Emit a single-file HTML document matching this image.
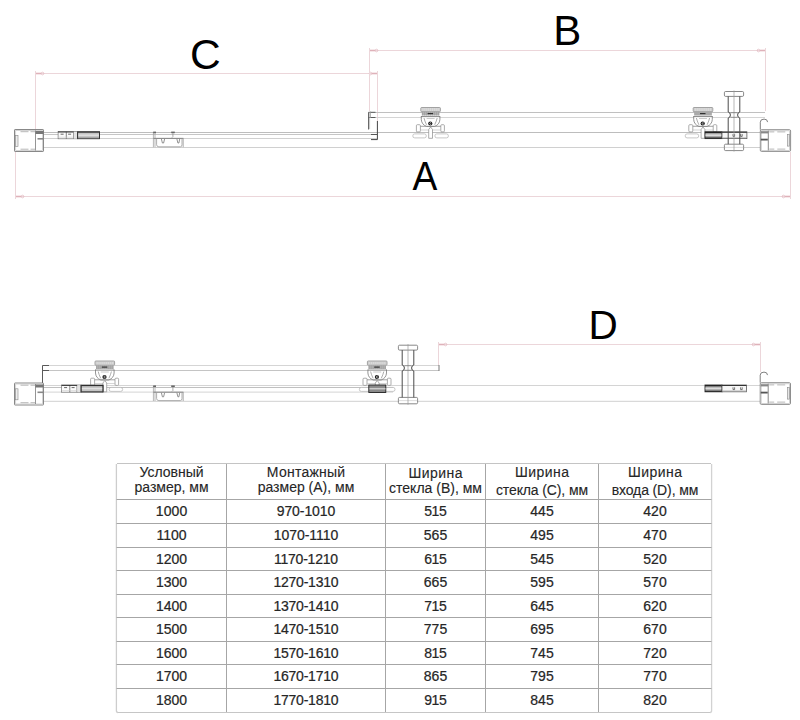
<!DOCTYPE html>
<html><head><meta charset="utf-8"><title>Размеры</title>
<style>
html,body{margin:0;padding:0;background:#fff;}
body{width:800px;height:720px;overflow:hidden;}
svg{display:block;}
</style></head>
<body>
<svg width="800" height="720" viewBox="0 0 800 720" fill="none">
<path d="M35.5,73.5 H377.5" stroke="#ecd6da" stroke-width="1"/>
<path d="M35.5,71.0 V130" stroke="#ecd6da" stroke-width="1"/>
<path d="M377.5,71.0 V121" stroke="#ecd6da" stroke-width="1"/>
<path d="M36.0,73.5 h5" stroke="#dfb2ba" stroke-width="1.6" fill="none" />
<circle cx="42.5" cy="73.5" r="1.3" fill="none" stroke="#dfb2ba" stroke-width="0.7"/>
<path d="M377.0,73.5 h-5" stroke="#dfb2ba" stroke-width="1.6" fill="none" />
<circle cx="370.5" cy="73.5" r="1.3" fill="none" stroke="#dfb2ba" stroke-width="0.7"/>
<path d="M369.5,50.5 H765.5" stroke="#ecd6da" stroke-width="1"/>
<path d="M369.5,48.0 V111" stroke="#ecd6da" stroke-width="1"/>
<path d="M765.5,48.0 V111" stroke="#ecd6da" stroke-width="1"/>
<path d="M370.0,50.5 h5" stroke="#dfb2ba" stroke-width="1.6" fill="none" />
<circle cx="376.5" cy="50.5" r="1.3" fill="none" stroke="#dfb2ba" stroke-width="0.7"/>
<path d="M765.0,50.5 h-5" stroke="#dfb2ba" stroke-width="1.6" fill="none" />
<circle cx="758.5" cy="50.5" r="1.3" fill="none" stroke="#dfb2ba" stroke-width="0.7"/>
<path d="M15.5,196.5 H790.5" stroke="#ecd6da" stroke-width="1"/>
<path d="M15.5,196.5 V152" stroke="#ecd6da" stroke-width="1"/>
<path d="M790.5,196.5 V152" stroke="#ecd6da" stroke-width="1"/>
<path d="M16.0,196.5 h5" stroke="#dfb2ba" stroke-width="1.6" fill="none" />
<circle cx="22.5" cy="196.5" r="1.3" fill="none" stroke="#dfb2ba" stroke-width="0.7"/>
<path d="M790.0,196.5 h-5" stroke="#dfb2ba" stroke-width="1.6" fill="none" />
<circle cx="783.5" cy="196.5" r="1.3" fill="none" stroke="#dfb2ba" stroke-width="0.7"/>
<path d="M15.5,152 V199" stroke="#ecd6da" stroke-width="1"/>
<path d="M790.5,152 V199" stroke="#ecd6da" stroke-width="1"/>
<path d="M43,132.5 H760" stroke="#bdbdbd" stroke-width="1"/>
<path d="M43,134.5 H377" stroke="#c6c6c6" stroke-width="1"/>
<path d="M43,138.5 H377" stroke="#d0d0d0" stroke-width="1"/>
<path d="M43,147.5 H760" stroke="#d0d0d0" stroke-width="1"/>
<path d="M368.5,112.5 H765" stroke="#c0c0c0" stroke-width="1"/>
<path d="M368.5,117.5 H765" stroke="#d5d5d5" stroke-width="1"/>
<path d="M375.5,112.3 H368.6 V129.5" stroke="#5a5a5a" stroke-width="1" fill="none" />
<path d="M368.6,117.5 H375.5" stroke="#5a5a5a" stroke-width="1" fill="none" />
<path d="M369.6,112 V129" stroke="#aaa" stroke-width="0.6" fill="none" />
<path d="M370.5,111.5 V118" stroke="#999" stroke-width="0.7" fill="none" />
<path d="M377.4,121 V139.6 H371" stroke="#444" stroke-width="1" fill="none" />
<path d="M371,134.5 H377.4" stroke="#555" stroke-width="1" fill="none" />
<rect x="14.5" y="129.5" width="29" height="22" rx="0.6" fill="#fff" stroke="#7a7a7a" stroke-width="0.9"/>
<rect x="15.7" y="130.5" width="26.8" height="20" fill="none" stroke="#c4c4c4" stroke-width="0.7"/>
<path d="M35.5,130.5 V150.5" stroke="#7a7a7a" stroke-width="0.8" fill="none" />
<rect x="15.6" y="135.3" width="2.4" height="11" fill="#eee" stroke="#888" stroke-width="0.6"/>
<path d="M20.5,131.7 h8 M30.5,131.7 h5 M20.5,149.2 h8 M30.5,149.2 h5" stroke="#999" stroke-width="0.7" fill="none" />
<rect x="35.5" y="131.0" width="8" height="3" fill="#777"/>
<rect x="37.5" y="138.0" width="6" height="1.6" fill="#888"/>
<rect x="760.3" y="129.7" width="30.3" height="21.7" rx="1.2" fill="#fff" stroke="#7a7a7a" stroke-width="0.85"/>
<rect x="761.3" y="130.79999999999998" width="28.2" height="19.599999999999998" fill="none" stroke="#c4c4c4" stroke-width="0.7"/>
<path d="M768.3,130.7 V150.39999999999998" stroke="#6a6a6a" stroke-width="0.8" fill="none" />
<rect x="787.3999999999999" y="134.5" width="2.2" height="11.6" fill="#e6e6e6" stroke="#888" stroke-width="0.6"/>
<path d="M769.3,131.89999999999998 h5 M777.3,131.89999999999998 h8 M769.3,149.09999999999997 h5 M777.3,149.09999999999997 h8" stroke="#999" stroke-width="0.7" fill="none" />
<rect x="760.8" y="131.2" width="7.5" height="2.2" fill="#888"/>
<rect x="760.8" y="138.7" width="7" height="1.8" fill="#555"/>
<path d="M760.3,129.7 V122.19999999999999 Q760.3,119.1 764.0999999999999,119.1 Q767.5,119.1 767.5999999999999,122.1" stroke="#707070" stroke-width="0.9" fill="none" />
<rect x="58.1" y="131.6" width="19.4" height="7.2" fill="#fbfbfb" stroke="#777" stroke-width="0.7"/>
<path d="M66.3,131.6 V138.79999999999998 M73.5,131.6 V138.79999999999998" stroke="#666" stroke-width="0.8" fill="none" />
<path d="M58.1,132.0 H73.5" stroke="#333" stroke-width="1" fill="none" />
<path d="M60.6,134.2 h3 M68.1,134.2 h3" stroke="#555" stroke-width="0.9" fill="none" />
<path d="M58.6,137.2 H73.1" stroke="#ccc" stroke-width="0.6" fill="none" />
<rect x="73.7" y="132.1" width="3.6" height="6.4" fill="#e4e4e4"/>
<rect x="77.6" y="131.6" width="21.9" height="7.2" fill="#c4c4c4" stroke="#555" stroke-width="0.8"/>
<path d="M77.6,132.15 H99.5" stroke="#2e2e2e" stroke-width="1.1" fill="none" />
<path d="M77.6,138.25 H99.5" stroke="#555" stroke-width="1" fill="none" />
<path d="M78.1,135.2 H99.1" stroke="#e2e2e2" stroke-width="1.4" fill="none" />
<path d="M77.6,131.6 V138.79999999999998 M99.5,131.6 V138.79999999999998" stroke="#333" stroke-width="1" fill="none" />
<path d="M153.4,132.2 V147.2 M155.0,132.2 V147.2" stroke="#9a9a9a" stroke-width="0.7" fill="none" />
<path d="M153.4,138.39999999999998 H183.4" stroke="#8a8a8a" stroke-width="1.1" fill="none" />
<path d="M183.20000000000002,138.39999999999998 V147.2" stroke="#999" stroke-width="0.8" fill="none" />
<path d="M156.6,138.7 V144.7 Q156.6,146.79999999999998 158.9,146.79999999999998 H180.4 Q182.0,146.79999999999998 182.0,144.7 V138.7" stroke="#999" stroke-width="0.8" fill="none" />
<path d="M161.4,139.0 l1,4 h1.2 l1,-4 M176.9,139.0 l1,4 h1 l0.8,-4" stroke="#777" stroke-width="0.8" fill="none" />
<rect x="153.20000000000002" y="131.6" width="2.8" height="1.6" fill="#666"/>
<rect x="171.20000000000002" y="131.6" width="3.6" height="1.6" fill="#666"/>
<path d="M172.9,133.2 V136.7 l-1,1" stroke="#888" stroke-width="0.7" fill="none" />
<rect x="420.8" y="107.5" width="19.6" height="4.2" rx="0.8" fill="#dcdcdc" stroke="#8e8e8e" stroke-width="0.8"/>
<path d="M422.0,108.1 V111.1" stroke="#c0c0c0" stroke-width="0.5" fill="none" />
<path d="M423.9,108.1 V111.1" stroke="#c0c0c0" stroke-width="0.5" fill="none" />
<path d="M425.8,108.1 V111.1" stroke="#c0c0c0" stroke-width="0.5" fill="none" />
<path d="M427.7,108.1 V111.1" stroke="#c0c0c0" stroke-width="0.5" fill="none" />
<path d="M429.6,108.1 V111.1" stroke="#c0c0c0" stroke-width="0.5" fill="none" />
<path d="M431.5,108.1 V111.1" stroke="#c0c0c0" stroke-width="0.5" fill="none" />
<path d="M433.4,108.1 V111.1" stroke="#c0c0c0" stroke-width="0.5" fill="none" />
<path d="M435.3,108.1 V111.1" stroke="#c0c0c0" stroke-width="0.5" fill="none" />
<path d="M437.2,108.1 V111.1" stroke="#c0c0c0" stroke-width="0.5" fill="none" />
<path d="M439.1,108.1 V111.1" stroke="#c0c0c0" stroke-width="0.5" fill="none" />
<rect x="421.8" y="111.9" width="17.6" height="3.6" fill="#b4b4b4"/>
<path d="M422.6,111.9 V115.5" stroke="#8e8e8e" stroke-width="0.5" fill="none" />
<path d="M424.6,111.9 V115.5" stroke="#8e8e8e" stroke-width="0.5" fill="none" />
<path d="M426.6,111.9 V115.5" stroke="#8e8e8e" stroke-width="0.5" fill="none" />
<path d="M428.6,111.9 V115.5" stroke="#8e8e8e" stroke-width="0.5" fill="none" />
<path d="M430.6,111.9 V115.5" stroke="#8e8e8e" stroke-width="0.5" fill="none" />
<path d="M432.6,111.9 V115.5" stroke="#8e8e8e" stroke-width="0.5" fill="none" />
<path d="M434.6,111.9 V115.5" stroke="#8e8e8e" stroke-width="0.5" fill="none" />
<path d="M436.6,111.9 V115.5" stroke="#8e8e8e" stroke-width="0.5" fill="none" />
<path d="M438.6,111.9 V115.5" stroke="#8e8e8e" stroke-width="0.5" fill="none" />
<path d="M427.6,113.6 H433.1" stroke="#2a2a2a" stroke-width="1.1" fill="none" />
<path d="M421.3,116.0 V119.5 Q421.6,124.5 426.6,126.5 H434.6 Q439.6,124.5 439.9,119.5 V116.0" stroke="#7a7a7a" stroke-width="0.8" fill="#fff" />
<path d="M421.3,116.6 H439.9" stroke="#666" stroke-width="0.8" fill="none" />
<path d="M424.0,118.0 l0.9,3 l1.6,3.8 M437.2,118.0 l-0.9,3 l-1.6,3.8" stroke="#8a8a8a" stroke-width="0.7" fill="none" />
<path d="M426.6,118.5 H434.6" stroke="#aaa" stroke-width="0.6" fill="none" />
<circle cx="430.3" cy="123.5" r="2.1" fill="#1a1a1a"/>
<path d="M431.2,122.8 a0.9,0.9 0 1,0 0,1.4" stroke="#fff" stroke-width="0.6" fill="none" />
<rect x="416.4" y="124.7" width="4" height="7.2" rx="1" fill="#fff" stroke="#8a8a8a" stroke-width="0.7"/>
<rect x="440.8" y="124.7" width="3.6" height="7.2" rx="1" fill="#fff" stroke="#8a8a8a" stroke-width="0.7"/>
<path d="M420.4,126.3 H440.8" stroke="#8a8a8a" stroke-width="0.8" fill="none" />
<path d="M420.4,130.0 H440.8" stroke="#bbb" stroke-width="0.6" fill="none" />
<rect x="412.8" y="133.9" width="13.5" height="4" rx="1.9" fill="#fff" stroke="#b0b0b0" stroke-width="0.7"/>
<rect x="434.9" y="133.9" width="13.5" height="4" rx="1.9" fill="#fff" stroke="#b0b0b0" stroke-width="0.7"/>
<path d="M428.7,138.3 V129.5 L430.6,127.0 L432.5,129.5 V138.3 Z" stroke="#8a8a8a" stroke-width="0.7" fill="#fff" />
<rect x="693.2" y="107.5" width="19.6" height="4.2" rx="0.8" fill="#dcdcdc" stroke="#8e8e8e" stroke-width="0.8"/>
<path d="M694.4,108.1 V111.1" stroke="#c0c0c0" stroke-width="0.5" fill="none" />
<path d="M696.3,108.1 V111.1" stroke="#c0c0c0" stroke-width="0.5" fill="none" />
<path d="M698.2,108.1 V111.1" stroke="#c0c0c0" stroke-width="0.5" fill="none" />
<path d="M700.1,108.1 V111.1" stroke="#c0c0c0" stroke-width="0.5" fill="none" />
<path d="M702.0,108.1 V111.1" stroke="#c0c0c0" stroke-width="0.5" fill="none" />
<path d="M703.9,108.1 V111.1" stroke="#c0c0c0" stroke-width="0.5" fill="none" />
<path d="M705.8,108.1 V111.1" stroke="#c0c0c0" stroke-width="0.5" fill="none" />
<path d="M707.7,108.1 V111.1" stroke="#c0c0c0" stroke-width="0.5" fill="none" />
<path d="M709.6,108.1 V111.1" stroke="#c0c0c0" stroke-width="0.5" fill="none" />
<path d="M711.5,108.1 V111.1" stroke="#c0c0c0" stroke-width="0.5" fill="none" />
<rect x="694.2" y="111.9" width="17.6" height="3.6" fill="#b4b4b4"/>
<path d="M695.0,111.9 V115.5" stroke="#8e8e8e" stroke-width="0.5" fill="none" />
<path d="M697.0,111.9 V115.5" stroke="#8e8e8e" stroke-width="0.5" fill="none" />
<path d="M699.0,111.9 V115.5" stroke="#8e8e8e" stroke-width="0.5" fill="none" />
<path d="M701.0,111.9 V115.5" stroke="#8e8e8e" stroke-width="0.5" fill="none" />
<path d="M703.0,111.9 V115.5" stroke="#8e8e8e" stroke-width="0.5" fill="none" />
<path d="M705.0,111.9 V115.5" stroke="#8e8e8e" stroke-width="0.5" fill="none" />
<path d="M707.0,111.9 V115.5" stroke="#8e8e8e" stroke-width="0.5" fill="none" />
<path d="M709.0,111.9 V115.5" stroke="#8e8e8e" stroke-width="0.5" fill="none" />
<path d="M711.0,111.9 V115.5" stroke="#8e8e8e" stroke-width="0.5" fill="none" />
<path d="M700.0,113.6 H705.5" stroke="#2a2a2a" stroke-width="1.1" fill="none" />
<path d="M693.7,116.0 V119.5 Q694.0,124.5 699.0,126.5 H707.0 Q712.0,124.5 712.3,119.5 V116.0" stroke="#7a7a7a" stroke-width="0.8" fill="#fff" />
<path d="M693.7,116.6 H712.3" stroke="#666" stroke-width="0.8" fill="none" />
<path d="M696.4,118.0 l0.9,3 l1.6,3.8 M709.6,118.0 l-0.9,3 l-1.6,3.8" stroke="#8a8a8a" stroke-width="0.7" fill="none" />
<path d="M699.0,118.5 H707.0" stroke="#aaa" stroke-width="0.6" fill="none" />
<circle cx="702.7" cy="123.5" r="2.1" fill="#1a1a1a"/>
<path d="M703.6,122.8 a0.9,0.9 0 1,0 0,1.4" stroke="#fff" stroke-width="0.6" fill="none" />
<rect x="688.8" y="124.7" width="4" height="7.2" rx="1" fill="#fff" stroke="#8a8a8a" stroke-width="0.7"/>
<rect x="713.2" y="124.7" width="3.6" height="7.2" rx="1" fill="#fff" stroke="#8a8a8a" stroke-width="0.7"/>
<path d="M692.8,126.3 H713.2" stroke="#8a8a8a" stroke-width="0.8" fill="none" />
<path d="M692.8,130.0 H713.2" stroke="#bbb" stroke-width="0.6" fill="none" />
<rect x="685.2" y="133.9" width="13.5" height="4" rx="1.9" fill="#fff" stroke="#b0b0b0" stroke-width="0.7"/>
<rect x="707.3" y="133.9" width="13.5" height="4" rx="1.9" fill="#fff" stroke="#b0b0b0" stroke-width="0.7"/>
<path d="M701.1,138.3 V129.5 L703.0,127.0 L704.9,129.5 V138.3 Z" stroke="#8a8a8a" stroke-width="0.7" fill="#fff" />
<rect x="705" y="131.8" width="17" height="6.8" fill="#a0a0a0" stroke="#2a2a2a" stroke-width="0.9"/>
<path d="M705,132.4 H722 M705,138.00000000000003 H722" stroke="#222" stroke-width="1.1" fill="none" />
<path d="M705.5,135.20000000000002 H721.5" stroke="#dcdcdc" stroke-width="1.8" fill="none" />
<rect x="722" y="131.8" width="24.9" height="6.8" fill="#f6f6f6" stroke="#5a5a5a" stroke-width="0.8"/>
<path d="M722,132.3 H746.9" stroke="#333" stroke-width="1" fill="none" />
<path d="M733,134.10000000000002 v2.3 h1.6 v-2.3 M740.6,134.10000000000002 v2.3 h1.6 v-2.3" stroke="#555" stroke-width="0.8" fill="none" />
<path d="M722,137.60000000000002 H746.9" stroke="#aaa" stroke-width="0.6" fill="none" />
<rect x="724.4" y="91.5" width="19.2" height="4.9" rx="1.2" fill="#fff" stroke="#6a6a6a" stroke-width="0.8"/>
<rect x="724.4" y="144.2" width="19.2" height="6.4" rx="1.2" fill="#fff" stroke="#6a6a6a" stroke-width="0.8"/>
<path d="M724.4,147.4 H743.6" stroke="#bbb" stroke-width="0.5" fill="none" />
<path d="M728.2,96.4 V112.0 Q730.4,112.5 730.4,115.0 Q730.4,117.5 728.2,118.0 V144.2" stroke="#4a4a4a" stroke-width="1" fill="none" />
<path d="M739.8,96.4 V112.0 Q737.6,112.5 737.6,115.0 Q737.6,117.5 739.8,118.0 V144.2" stroke="#4a4a4a" stroke-width="1" fill="none" />
<path d="M734.0,90.5 V151.6" stroke="#9a9a9a" stroke-width="0.7" fill="none" />
<path d="M730.4,112.7 H737.6 M730.4,117.3 H737.6" stroke="#777" stroke-width="0.7" fill="none" />
<path d="M438.5,344.5 H760.5" stroke="#ecd6da" stroke-width="1"/>
<path d="M438.5,342.0 V365" stroke="#ecd6da" stroke-width="1"/>
<path d="M760.5,342.0 V372" stroke="#ecd6da" stroke-width="1"/>
<path d="M439.0,344.5 h5" stroke="#dfb2ba" stroke-width="1.6" fill="none" />
<circle cx="445.5" cy="344.5" r="1.3" fill="none" stroke="#dfb2ba" stroke-width="0.7"/>
<path d="M760.0,344.5 h-5" stroke="#dfb2ba" stroke-width="1.6" fill="none" />
<circle cx="753.5" cy="344.5" r="1.3" fill="none" stroke="#dfb2ba" stroke-width="0.7"/>
<path d="M43,385.5 H760" stroke="#d4d4d4" stroke-width="1"/>
<path d="M43,387.5 H393" stroke="#c0c0c0" stroke-width="1"/>
<path d="M43,392.1 H393" stroke="#d4d4d4" stroke-width="1"/>
<path d="M43,401.3 H760" stroke="#d0d0d0" stroke-width="1"/>
<path d="M42.5,365.5 H439" stroke="#d5d5d5" stroke-width="1"/>
<path d="M42.5,370.5 H439" stroke="#c4c4c4" stroke-width="1"/>
<path d="M49,365.5 H42.5 V386" stroke="#5a5a5a" stroke-width="1" fill="none" />
<path d="M42.5,370.5 H49" stroke="#5a5a5a" stroke-width="1" fill="none" />
<path d="M439,365 V371" stroke="#777" stroke-width="1" fill="none" />
<rect x="14.5" y="383" width="29" height="22" rx="0.6" fill="#fff" stroke="#7a7a7a" stroke-width="0.9"/>
<rect x="15.7" y="384" width="26.8" height="20" fill="none" stroke="#c4c4c4" stroke-width="0.7"/>
<path d="M35.5,384 V404" stroke="#7a7a7a" stroke-width="0.8" fill="none" />
<rect x="15.6" y="388.8" width="2.4" height="11" fill="#eee" stroke="#888" stroke-width="0.6"/>
<path d="M20.5,385.2 h8 M30.5,385.2 h5 M20.5,402.7 h8 M30.5,402.7 h5" stroke="#999" stroke-width="0.7" fill="none" />
<rect x="35.5" y="384.5" width="8" height="3" fill="#777"/>
<rect x="37.5" y="391.5" width="6" height="1.6" fill="#888"/>
<rect x="760.2" y="382.7" width="30.3" height="21.7" rx="1.2" fill="#fff" stroke="#7a7a7a" stroke-width="0.85"/>
<rect x="761.2" y="383.8" width="28.2" height="19.599999999999998" fill="none" stroke="#c4c4c4" stroke-width="0.7"/>
<path d="M768.2,383.7 V403.4" stroke="#6a6a6a" stroke-width="0.8" fill="none" />
<rect x="787.3" y="387.5" width="2.2" height="11.6" fill="#e6e6e6" stroke="#888" stroke-width="0.6"/>
<path d="M769.2,384.9 h5 M777.2,384.9 h8 M769.2,402.09999999999997 h5 M777.2,402.09999999999997 h8" stroke="#999" stroke-width="0.7" fill="none" />
<rect x="760.7" y="384.2" width="7.5" height="2.2" fill="#888"/>
<rect x="760.7" y="391.7" width="7" height="1.8" fill="#555"/>
<path d="M760.2,382.7 V375.2 Q760.2,372.09999999999997 764.0,372.09999999999997 Q767.4000000000001,372.09999999999997 767.5,375.09999999999997" stroke="#707070" stroke-width="0.9" fill="none" />
<rect x="95.0" y="361.0" width="19.6" height="4.2" rx="0.8" fill="#dcdcdc" stroke="#8e8e8e" stroke-width="0.8"/>
<path d="M96.2,361.6 V364.6" stroke="#c0c0c0" stroke-width="0.5" fill="none" />
<path d="M98.1,361.6 V364.6" stroke="#c0c0c0" stroke-width="0.5" fill="none" />
<path d="M100.0,361.6 V364.6" stroke="#c0c0c0" stroke-width="0.5" fill="none" />
<path d="M101.9,361.6 V364.6" stroke="#c0c0c0" stroke-width="0.5" fill="none" />
<path d="M103.8,361.6 V364.6" stroke="#c0c0c0" stroke-width="0.5" fill="none" />
<path d="M105.7,361.6 V364.6" stroke="#c0c0c0" stroke-width="0.5" fill="none" />
<path d="M107.6,361.6 V364.6" stroke="#c0c0c0" stroke-width="0.5" fill="none" />
<path d="M109.5,361.6 V364.6" stroke="#c0c0c0" stroke-width="0.5" fill="none" />
<path d="M111.4,361.6 V364.6" stroke="#c0c0c0" stroke-width="0.5" fill="none" />
<path d="M113.3,361.6 V364.6" stroke="#c0c0c0" stroke-width="0.5" fill="none" />
<rect x="96.0" y="365.4" width="17.6" height="3.6" fill="#b4b4b4"/>
<path d="M96.8,365.4 V369.0" stroke="#8e8e8e" stroke-width="0.5" fill="none" />
<path d="M98.8,365.4 V369.0" stroke="#8e8e8e" stroke-width="0.5" fill="none" />
<path d="M100.8,365.4 V369.0" stroke="#8e8e8e" stroke-width="0.5" fill="none" />
<path d="M102.8,365.4 V369.0" stroke="#8e8e8e" stroke-width="0.5" fill="none" />
<path d="M104.8,365.4 V369.0" stroke="#8e8e8e" stroke-width="0.5" fill="none" />
<path d="M106.8,365.4 V369.0" stroke="#8e8e8e" stroke-width="0.5" fill="none" />
<path d="M108.8,365.4 V369.0" stroke="#8e8e8e" stroke-width="0.5" fill="none" />
<path d="M110.8,365.4 V369.0" stroke="#8e8e8e" stroke-width="0.5" fill="none" />
<path d="M112.8,365.4 V369.0" stroke="#8e8e8e" stroke-width="0.5" fill="none" />
<path d="M101.8,367.1 H107.3" stroke="#2a2a2a" stroke-width="1.1" fill="none" />
<path d="M95.5,369.5 V373.0 Q95.8,378.0 100.8,380.0 H108.8 Q113.8,378.0 114.1,373.0 V369.5" stroke="#7a7a7a" stroke-width="0.8" fill="#fff" />
<path d="M95.5,370.1 H114.1" stroke="#666" stroke-width="0.8" fill="none" />
<path d="M98.2,371.5 l0.9,3 l1.6,3.8 M111.4,371.5 l-0.9,3 l-1.6,3.8" stroke="#8a8a8a" stroke-width="0.7" fill="none" />
<path d="M100.8,372.0 H108.8" stroke="#aaa" stroke-width="0.6" fill="none" />
<circle cx="104.5" cy="377.0" r="2.1" fill="#1a1a1a"/>
<path d="M105.4,376.3 a0.9,0.9 0 1,0 0,1.4" stroke="#fff" stroke-width="0.6" fill="none" />
<rect x="90.6" y="378.2" width="4" height="7.2" rx="1" fill="#fff" stroke="#8a8a8a" stroke-width="0.7"/>
<rect x="115.0" y="378.2" width="3.6" height="7.2" rx="1" fill="#fff" stroke="#8a8a8a" stroke-width="0.7"/>
<path d="M94.6,379.8 H115.0" stroke="#8a8a8a" stroke-width="0.8" fill="none" />
<path d="M94.6,383.5 H115.0" stroke="#bbb" stroke-width="0.6" fill="none" />
<rect x="87.0" y="387.4" width="13.5" height="4" rx="1.9" fill="#fff" stroke="#b0b0b0" stroke-width="0.7"/>
<rect x="109.1" y="387.4" width="13.5" height="4" rx="1.9" fill="#fff" stroke="#b0b0b0" stroke-width="0.7"/>
<path d="M102.9,391.8 V383.0 L104.8,380.5 L106.7,383.0 V391.8 Z" stroke="#8a8a8a" stroke-width="0.7" fill="#fff" />
<rect x="61.6" y="385" width="19.4" height="7.2" fill="#fbfbfb" stroke="#777" stroke-width="0.7"/>
<path d="M69.8,385 V392.2 M77.0,385 V392.2" stroke="#666" stroke-width="0.8" fill="none" />
<path d="M61.6,385.4 H77.0" stroke="#333" stroke-width="1" fill="none" />
<path d="M64.1,387.6 h3 M71.6,387.6 h3" stroke="#555" stroke-width="0.9" fill="none" />
<path d="M62.1,390.6 H76.6" stroke="#ccc" stroke-width="0.6" fill="none" />
<rect x="77.2" y="385.5" width="3.6" height="6.4" fill="#e4e4e4"/>
<rect x="81.1" y="385" width="21.9" height="7.2" fill="#c4c4c4" stroke="#555" stroke-width="0.8"/>
<path d="M81.1,385.55 H103.0" stroke="#2e2e2e" stroke-width="1.1" fill="none" />
<path d="M81.1,391.65 H103.0" stroke="#555" stroke-width="1" fill="none" />
<path d="M81.6,388.6 H102.6" stroke="#e2e2e2" stroke-width="1.4" fill="none" />
<path d="M81.1,385 V392.2 M103.0,385 V392.2" stroke="#333" stroke-width="1" fill="none" />
<path d="M153.4,386 V401 M155.0,386 V401" stroke="#9a9a9a" stroke-width="0.7" fill="none" />
<path d="M153.4,392.2 H183.4" stroke="#8a8a8a" stroke-width="1.1" fill="none" />
<path d="M183.20000000000002,392.2 V401" stroke="#999" stroke-width="0.8" fill="none" />
<path d="M156.6,392.5 V398.5 Q156.6,400.6 158.9,400.6 H180.4 Q182.0,400.6 182.0,398.5 V392.5" stroke="#999" stroke-width="0.8" fill="none" />
<path d="M161.4,392.8 l1,4 h1.2 l1,-4 M176.9,392.8 l1,4 h1 l0.8,-4" stroke="#777" stroke-width="0.8" fill="none" />
<rect x="153.20000000000002" y="385.4" width="2.8" height="1.6" fill="#666"/>
<rect x="171.20000000000002" y="385.4" width="3.6" height="1.6" fill="#666"/>
<path d="M172.9,387 V390.5 l-1,1" stroke="#888" stroke-width="0.7" fill="none" />
<rect x="367.4" y="361.0" width="19.6" height="4.2" rx="0.8" fill="#dcdcdc" stroke="#8e8e8e" stroke-width="0.8"/>
<path d="M368.6,361.6 V364.6" stroke="#c0c0c0" stroke-width="0.5" fill="none" />
<path d="M370.5,361.6 V364.6" stroke="#c0c0c0" stroke-width="0.5" fill="none" />
<path d="M372.4,361.6 V364.6" stroke="#c0c0c0" stroke-width="0.5" fill="none" />
<path d="M374.3,361.6 V364.6" stroke="#c0c0c0" stroke-width="0.5" fill="none" />
<path d="M376.2,361.6 V364.6" stroke="#c0c0c0" stroke-width="0.5" fill="none" />
<path d="M378.1,361.6 V364.6" stroke="#c0c0c0" stroke-width="0.5" fill="none" />
<path d="M380.0,361.6 V364.6" stroke="#c0c0c0" stroke-width="0.5" fill="none" />
<path d="M381.9,361.6 V364.6" stroke="#c0c0c0" stroke-width="0.5" fill="none" />
<path d="M383.8,361.6 V364.6" stroke="#c0c0c0" stroke-width="0.5" fill="none" />
<path d="M385.7,361.6 V364.6" stroke="#c0c0c0" stroke-width="0.5" fill="none" />
<rect x="368.4" y="365.4" width="17.6" height="3.6" fill="#b4b4b4"/>
<path d="M369.2,365.4 V369.0" stroke="#8e8e8e" stroke-width="0.5" fill="none" />
<path d="M371.2,365.4 V369.0" stroke="#8e8e8e" stroke-width="0.5" fill="none" />
<path d="M373.2,365.4 V369.0" stroke="#8e8e8e" stroke-width="0.5" fill="none" />
<path d="M375.2,365.4 V369.0" stroke="#8e8e8e" stroke-width="0.5" fill="none" />
<path d="M377.2,365.4 V369.0" stroke="#8e8e8e" stroke-width="0.5" fill="none" />
<path d="M379.2,365.4 V369.0" stroke="#8e8e8e" stroke-width="0.5" fill="none" />
<path d="M381.2,365.4 V369.0" stroke="#8e8e8e" stroke-width="0.5" fill="none" />
<path d="M383.2,365.4 V369.0" stroke="#8e8e8e" stroke-width="0.5" fill="none" />
<path d="M385.2,365.4 V369.0" stroke="#8e8e8e" stroke-width="0.5" fill="none" />
<path d="M374.2,367.1 H379.7" stroke="#2a2a2a" stroke-width="1.1" fill="none" />
<path d="M367.9,369.5 V373.0 Q368.2,378.0 373.2,380.0 H381.2 Q386.2,378.0 386.5,373.0 V369.5" stroke="#7a7a7a" stroke-width="0.8" fill="#fff" />
<path d="M367.9,370.1 H386.5" stroke="#666" stroke-width="0.8" fill="none" />
<path d="M370.6,371.5 l0.9,3 l1.6,3.8 M383.8,371.5 l-0.9,3 l-1.6,3.8" stroke="#8a8a8a" stroke-width="0.7" fill="none" />
<path d="M373.2,372.0 H381.2" stroke="#aaa" stroke-width="0.6" fill="none" />
<circle cx="376.9" cy="377.0" r="2.1" fill="#1a1a1a"/>
<path d="M377.8,376.3 a0.9,0.9 0 1,0 0,1.4" stroke="#fff" stroke-width="0.6" fill="none" />
<rect x="363.0" y="378.2" width="4" height="7.2" rx="1" fill="#fff" stroke="#8a8a8a" stroke-width="0.7"/>
<rect x="387.4" y="378.2" width="3.6" height="7.2" rx="1" fill="#fff" stroke="#8a8a8a" stroke-width="0.7"/>
<path d="M367.0,379.8 H387.4" stroke="#8a8a8a" stroke-width="0.8" fill="none" />
<path d="M367.0,383.5 H387.4" stroke="#bbb" stroke-width="0.6" fill="none" />
<rect x="359.4" y="387.4" width="13.5" height="4" rx="1.9" fill="#fff" stroke="#b0b0b0" stroke-width="0.7"/>
<rect x="381.5" y="387.4" width="13.5" height="4" rx="1.9" fill="#fff" stroke="#b0b0b0" stroke-width="0.7"/>
<path d="M375.3,391.8 V383.0 L377.2,380.5 L379.1,383.0 V391.8 Z" stroke="#8a8a8a" stroke-width="0.7" fill="#fff" />
<rect x="398.4" y="345.2" width="19.2" height="4.9" rx="1.2" fill="#fff" stroke="#6a6a6a" stroke-width="0.8"/>
<rect x="398.4" y="397.4" width="19.2" height="6.4" rx="1.2" fill="#fff" stroke="#6a6a6a" stroke-width="0.8"/>
<path d="M398.4,400.6 H417.6" stroke="#bbb" stroke-width="0.5" fill="none" />
<path d="M402.2,350.1 V365.0 Q404.4,365.5 404.4,368.0 Q404.4,370.5 402.2,371.0 V397.4" stroke="#4a4a4a" stroke-width="1" fill="none" />
<path d="M413.8,350.1 V365.0 Q411.6,365.5 411.6,368.0 Q411.6,370.5 413.8,371.0 V397.4" stroke="#4a4a4a" stroke-width="1" fill="none" />
<path d="M408.0,344.2 V404.8" stroke="#9a9a9a" stroke-width="0.7" fill="none" />
<path d="M404.4,365.7 H411.6 M404.4,370.3 H411.6" stroke="#777" stroke-width="0.7" fill="none" />
<rect x="368.8" y="385" width="17" height="7.5" fill="#8a8a8a" stroke="#222" stroke-width="0.9"/>
<path d="M369.5,388.7 H385.5" stroke="#ccc" stroke-width="1.5" fill="none" />
<rect x="705" y="385" width="17" height="6.8" fill="#a0a0a0" stroke="#2a2a2a" stroke-width="0.9"/>
<path d="M705,385.6 H722 M705,391.2 H722" stroke="#222" stroke-width="1.1" fill="none" />
<path d="M705.5,388.4 H721.5" stroke="#dcdcdc" stroke-width="1.8" fill="none" />
<rect x="722" y="385" width="24.4" height="6.8" fill="#f6f6f6" stroke="#5a5a5a" stroke-width="0.8"/>
<path d="M722,385.5 H746.4" stroke="#333" stroke-width="1" fill="none" />
<path d="M733,387.3 v2.3 h1.6 v-2.3 M740.6,387.3 v2.3 h1.6 v-2.3" stroke="#555" stroke-width="0.8" fill="none" />
<path d="M722,390.8 H746.4" stroke="#aaa" stroke-width="0.6" fill="none" />
<text x="205.4" y="68.9" text-anchor="middle" font-size="42.5" font-family="Liberation Sans, sans-serif" fill="#000">C</text>
<text x="567.3" y="44.9" text-anchor="middle" font-size="42" font-family="Liberation Sans, sans-serif" fill="#000">B</text>
<text x="425" y="189.9" text-anchor="middle" font-size="40" font-family="Liberation Sans, sans-serif" fill="#000" transform="translate(425,0) scale(0.93,1) translate(-425,0)">A</text>
<text x="603.2" y="339" text-anchor="middle" font-size="40.5" font-family="Liberation Sans, sans-serif" fill="#000">D</text>
<path d="M117,463.5 H711" stroke="#c4c4c4" stroke-width="1"/>
<path d="M117.5,712.5 H710.5" stroke="#c6c6c6" stroke-width="1"/>
<path d="M116.4,464 V710.5 Q116.4,712.5 118,712.5" stroke="#cdcdcd" stroke-width="1.3" fill="none" />
<path d="M711.6,464 V710.5 Q711.6,712.5 710,712.5" stroke="#d2d2d2" stroke-width="1.3" fill="none" />
<path d="M226.5,464 V712" stroke="#a6a6a6" stroke-width="1"/>
<path d="M385.5,464 V712" stroke="#a6a6a6" stroke-width="1"/>
<path d="M485.5,464 V712" stroke="#a6a6a6" stroke-width="1"/>
<path d="M598.5,464 V712" stroke="#a6a6a6" stroke-width="1"/>
<path d="M116.5,499.5 H711.5" stroke="#a6a6a6" stroke-width="1"/>
<path d="M116.5,523.5 H711.5" stroke="#a6a6a6" stroke-width="1"/>
<path d="M116.5,547.5 H711.5" stroke="#a6a6a6" stroke-width="1"/>
<path d="M116.5,570.5 H711.5" stroke="#a6a6a6" stroke-width="1"/>
<path d="M116.5,594.5 H711.5" stroke="#a6a6a6" stroke-width="1"/>
<path d="M116.5,617.5 H711.5" stroke="#a6a6a6" stroke-width="1"/>
<path d="M116.5,641.5 H711.5" stroke="#a6a6a6" stroke-width="1"/>
<path d="M116.5,664.5 H711.5" stroke="#a6a6a6" stroke-width="1"/>
<path d="M116.5,688.5 H711.5" stroke="#a6a6a6" stroke-width="1"/>
<text x="171.5" y="477.3" text-anchor="middle" font-size="14" font-family="Liberation Sans, sans-serif" fill="#262626" stroke="#262626" stroke-width="0.12">Условный</text>
<text x="171.5" y="492.0" text-anchor="middle" font-size="14" font-family="Liberation Sans, sans-serif" fill="#262626" stroke="#262626" stroke-width="0.12">размер, мм</text>
<text x="306.0" y="477.4" text-anchor="middle" font-size="14" textLength="78.3" lengthAdjust="spacing" font-family="Liberation Sans, sans-serif" fill="#262626" stroke="#262626" stroke-width="0.12">Монтажный</text>
<text x="306.0" y="492.4" text-anchor="middle" font-size="14" font-family="Liberation Sans, sans-serif" fill="#262626" stroke="#262626" stroke-width="0.12">размер (А), мм</text>
<text x="435.5" y="478.0" text-anchor="middle" font-size="14" textLength="54.0" lengthAdjust="spacing" font-family="Liberation Sans, sans-serif" fill="#262626" stroke="#262626" stroke-width="0.12">Ширина</text>
<text x="435.5" y="492.6" text-anchor="middle" font-size="14" font-family="Liberation Sans, sans-serif" fill="#262626" stroke="#262626" stroke-width="0.12">стекла (В), мм</text>
<text x="542.0" y="476.9" text-anchor="middle" font-size="14" textLength="54.0" lengthAdjust="spacing" font-family="Liberation Sans, sans-serif" fill="#262626" stroke="#262626" stroke-width="0.12">Ширина</text>
<text x="542.0" y="494.8" text-anchor="middle" font-size="14" textLength="92.0" lengthAdjust="spacing" font-family="Liberation Sans, sans-serif" fill="#262626" stroke="#262626" stroke-width="0.12">стекла (С), мм</text>
<text x="655.0" y="476.9" text-anchor="middle" font-size="14" textLength="54.0" lengthAdjust="spacing" font-family="Liberation Sans, sans-serif" fill="#262626" stroke="#262626" stroke-width="0.12">Ширина</text>
<text x="655.0" y="495.0" text-anchor="middle" font-size="14" textLength="86.5" lengthAdjust="spacing" font-family="Liberation Sans, sans-serif" fill="#262626" stroke="#262626" stroke-width="0.12">входа (D), мм</text>
<text x="171.5" y="516.2" text-anchor="middle" font-size="14" textLength="31.44" lengthAdjust="spacing" font-family="Liberation Sans, sans-serif" fill="#262626" stroke="#262626" stroke-width="0.22">1000</text>
<text x="306.0" y="516.2" text-anchor="middle" font-size="14" textLength="58.55" lengthAdjust="spacing" font-family="Liberation Sans, sans-serif" fill="#262626" stroke="#262626" stroke-width="0.22">970-1010</text>
<text x="435.5" y="516.2" text-anchor="middle" font-size="14" textLength="22.45" lengthAdjust="spacing" font-family="Liberation Sans, sans-serif" fill="#262626" stroke="#262626" stroke-width="0.22">515</text>
<text x="542.0" y="516.2" text-anchor="middle" font-size="14" textLength="23.35" lengthAdjust="spacing" font-family="Liberation Sans, sans-serif" fill="#262626" stroke="#262626" stroke-width="0.22">445</text>
<text x="655.0" y="516.2" text-anchor="middle" font-size="14" textLength="23.75" lengthAdjust="spacing" font-family="Liberation Sans, sans-serif" fill="#262626" stroke="#262626" stroke-width="0.22">420</text>
<text x="171.5" y="540.2" text-anchor="middle" font-size="14" textLength="30.14" lengthAdjust="spacing" font-family="Liberation Sans, sans-serif" fill="#262626" stroke="#262626" stroke-width="0.22">1100</text>
<text x="306.0" y="540.2" text-anchor="middle" font-size="14" textLength="64.53" lengthAdjust="spacing" font-family="Liberation Sans, sans-serif" fill="#262626" stroke="#262626" stroke-width="0.22">1070-1110</text>
<text x="435.5" y="540.2" text-anchor="middle" font-size="14" textLength="23.35" lengthAdjust="spacing" font-family="Liberation Sans, sans-serif" fill="#262626" stroke="#262626" stroke-width="0.22">565</text>
<text x="542.0" y="540.2" text-anchor="middle" font-size="14" textLength="23.35" lengthAdjust="spacing" font-family="Liberation Sans, sans-serif" fill="#262626" stroke="#262626" stroke-width="0.22">495</text>
<text x="655.0" y="540.2" text-anchor="middle" font-size="14" textLength="23.75" lengthAdjust="spacing" font-family="Liberation Sans, sans-serif" fill="#262626" stroke="#262626" stroke-width="0.22">470</text>
<text x="171.5" y="563.7" text-anchor="middle" font-size="14" textLength="31.04" lengthAdjust="spacing" font-family="Liberation Sans, sans-serif" fill="#262626" stroke="#262626" stroke-width="0.22">1200</text>
<text x="306.0" y="563.7" text-anchor="middle" font-size="14" textLength="64.13" lengthAdjust="spacing" font-family="Liberation Sans, sans-serif" fill="#262626" stroke="#262626" stroke-width="0.22">1170-1210</text>
<text x="435.5" y="563.7" text-anchor="middle" font-size="14" textLength="22.45" lengthAdjust="spacing" font-family="Liberation Sans, sans-serif" fill="#262626" stroke="#262626" stroke-width="0.22">615</text>
<text x="542.0" y="563.7" text-anchor="middle" font-size="14" textLength="23.35" lengthAdjust="spacing" font-family="Liberation Sans, sans-serif" fill="#262626" stroke="#262626" stroke-width="0.22">545</text>
<text x="655.0" y="563.7" text-anchor="middle" font-size="14" textLength="23.75" lengthAdjust="spacing" font-family="Liberation Sans, sans-serif" fill="#262626" stroke="#262626" stroke-width="0.22">520</text>
<text x="171.5" y="587.2" text-anchor="middle" font-size="14" textLength="31.04" lengthAdjust="spacing" font-family="Liberation Sans, sans-serif" fill="#262626" stroke="#262626" stroke-width="0.22">1300</text>
<text x="306.0" y="587.2" text-anchor="middle" font-size="14" textLength="65.03" lengthAdjust="spacing" font-family="Liberation Sans, sans-serif" fill="#262626" stroke="#262626" stroke-width="0.22">1270-1310</text>
<text x="435.5" y="587.2" text-anchor="middle" font-size="14" textLength="23.35" lengthAdjust="spacing" font-family="Liberation Sans, sans-serif" fill="#262626" stroke="#262626" stroke-width="0.22">665</text>
<text x="542.0" y="587.2" text-anchor="middle" font-size="14" textLength="23.35" lengthAdjust="spacing" font-family="Liberation Sans, sans-serif" fill="#262626" stroke="#262626" stroke-width="0.22">595</text>
<text x="655.0" y="587.2" text-anchor="middle" font-size="14" textLength="23.75" lengthAdjust="spacing" font-family="Liberation Sans, sans-serif" fill="#262626" stroke="#262626" stroke-width="0.22">570</text>
<text x="171.5" y="610.7" text-anchor="middle" font-size="14" textLength="31.04" lengthAdjust="spacing" font-family="Liberation Sans, sans-serif" fill="#262626" stroke="#262626" stroke-width="0.22">1400</text>
<text x="306.0" y="610.7" text-anchor="middle" font-size="14" textLength="65.03" lengthAdjust="spacing" font-family="Liberation Sans, sans-serif" fill="#262626" stroke="#262626" stroke-width="0.22">1370-1410</text>
<text x="435.5" y="610.7" text-anchor="middle" font-size="14" textLength="22.45" lengthAdjust="spacing" font-family="Liberation Sans, sans-serif" fill="#262626" stroke="#262626" stroke-width="0.22">715</text>
<text x="542.0" y="610.7" text-anchor="middle" font-size="14" textLength="23.35" lengthAdjust="spacing" font-family="Liberation Sans, sans-serif" fill="#262626" stroke="#262626" stroke-width="0.22">645</text>
<text x="655.0" y="610.7" text-anchor="middle" font-size="14" textLength="23.75" lengthAdjust="spacing" font-family="Liberation Sans, sans-serif" fill="#262626" stroke="#262626" stroke-width="0.22">620</text>
<text x="171.5" y="634.2" text-anchor="middle" font-size="14" textLength="31.04" lengthAdjust="spacing" font-family="Liberation Sans, sans-serif" fill="#262626" stroke="#262626" stroke-width="0.22">1500</text>
<text x="306.0" y="634.2" text-anchor="middle" font-size="14" textLength="65.03" lengthAdjust="spacing" font-family="Liberation Sans, sans-serif" fill="#262626" stroke="#262626" stroke-width="0.22">1470-1510</text>
<text x="435.5" y="634.2" text-anchor="middle" font-size="14" textLength="23.35" lengthAdjust="spacing" font-family="Liberation Sans, sans-serif" fill="#262626" stroke="#262626" stroke-width="0.22">775</text>
<text x="542.0" y="634.2" text-anchor="middle" font-size="14" textLength="23.35" lengthAdjust="spacing" font-family="Liberation Sans, sans-serif" fill="#262626" stroke="#262626" stroke-width="0.22">695</text>
<text x="655.0" y="634.2" text-anchor="middle" font-size="14" textLength="23.75" lengthAdjust="spacing" font-family="Liberation Sans, sans-serif" fill="#262626" stroke="#262626" stroke-width="0.22">670</text>
<text x="171.5" y="657.7" text-anchor="middle" font-size="14" textLength="31.04" lengthAdjust="spacing" font-family="Liberation Sans, sans-serif" fill="#262626" stroke="#262626" stroke-width="0.22">1600</text>
<text x="306.0" y="657.7" text-anchor="middle" font-size="14" textLength="65.03" lengthAdjust="spacing" font-family="Liberation Sans, sans-serif" fill="#262626" stroke="#262626" stroke-width="0.22">1570-1610</text>
<text x="435.5" y="657.7" text-anchor="middle" font-size="14" textLength="22.45" lengthAdjust="spacing" font-family="Liberation Sans, sans-serif" fill="#262626" stroke="#262626" stroke-width="0.22">815</text>
<text x="542.0" y="657.7" text-anchor="middle" font-size="14" textLength="23.35" lengthAdjust="spacing" font-family="Liberation Sans, sans-serif" fill="#262626" stroke="#262626" stroke-width="0.22">745</text>
<text x="655.0" y="657.7" text-anchor="middle" font-size="14" textLength="23.75" lengthAdjust="spacing" font-family="Liberation Sans, sans-serif" fill="#262626" stroke="#262626" stroke-width="0.22">720</text>
<text x="171.5" y="681.2" text-anchor="middle" font-size="14" textLength="31.04" lengthAdjust="spacing" font-family="Liberation Sans, sans-serif" fill="#262626" stroke="#262626" stroke-width="0.22">1700</text>
<text x="306.0" y="681.2" text-anchor="middle" font-size="14" textLength="65.03" lengthAdjust="spacing" font-family="Liberation Sans, sans-serif" fill="#262626" stroke="#262626" stroke-width="0.22">1670-1710</text>
<text x="435.5" y="681.2" text-anchor="middle" font-size="14" textLength="23.35" lengthAdjust="spacing" font-family="Liberation Sans, sans-serif" fill="#262626" stroke="#262626" stroke-width="0.22">865</text>
<text x="542.0" y="681.2" text-anchor="middle" font-size="14" textLength="23.35" lengthAdjust="spacing" font-family="Liberation Sans, sans-serif" fill="#262626" stroke="#262626" stroke-width="0.22">795</text>
<text x="655.0" y="681.2" text-anchor="middle" font-size="14" textLength="23.75" lengthAdjust="spacing" font-family="Liberation Sans, sans-serif" fill="#262626" stroke="#262626" stroke-width="0.22">770</text>
<text x="171.5" y="705.2" text-anchor="middle" font-size="14" textLength="31.04" lengthAdjust="spacing" font-family="Liberation Sans, sans-serif" fill="#262626" stroke="#262626" stroke-width="0.22">1800</text>
<text x="306.0" y="705.2" text-anchor="middle" font-size="14" textLength="65.03" lengthAdjust="spacing" font-family="Liberation Sans, sans-serif" fill="#262626" stroke="#262626" stroke-width="0.22">1770-1810</text>
<text x="435.5" y="705.2" text-anchor="middle" font-size="14" textLength="22.45" lengthAdjust="spacing" font-family="Liberation Sans, sans-serif" fill="#262626" stroke="#262626" stroke-width="0.22">915</text>
<text x="542.0" y="705.2" text-anchor="middle" font-size="14" textLength="23.35" lengthAdjust="spacing" font-family="Liberation Sans, sans-serif" fill="#262626" stroke="#262626" stroke-width="0.22">845</text>
<text x="655.0" y="705.2" text-anchor="middle" font-size="14" textLength="23.75" lengthAdjust="spacing" font-family="Liberation Sans, sans-serif" fill="#262626" stroke="#262626" stroke-width="0.22">820</text>
</svg>
</body></html>
